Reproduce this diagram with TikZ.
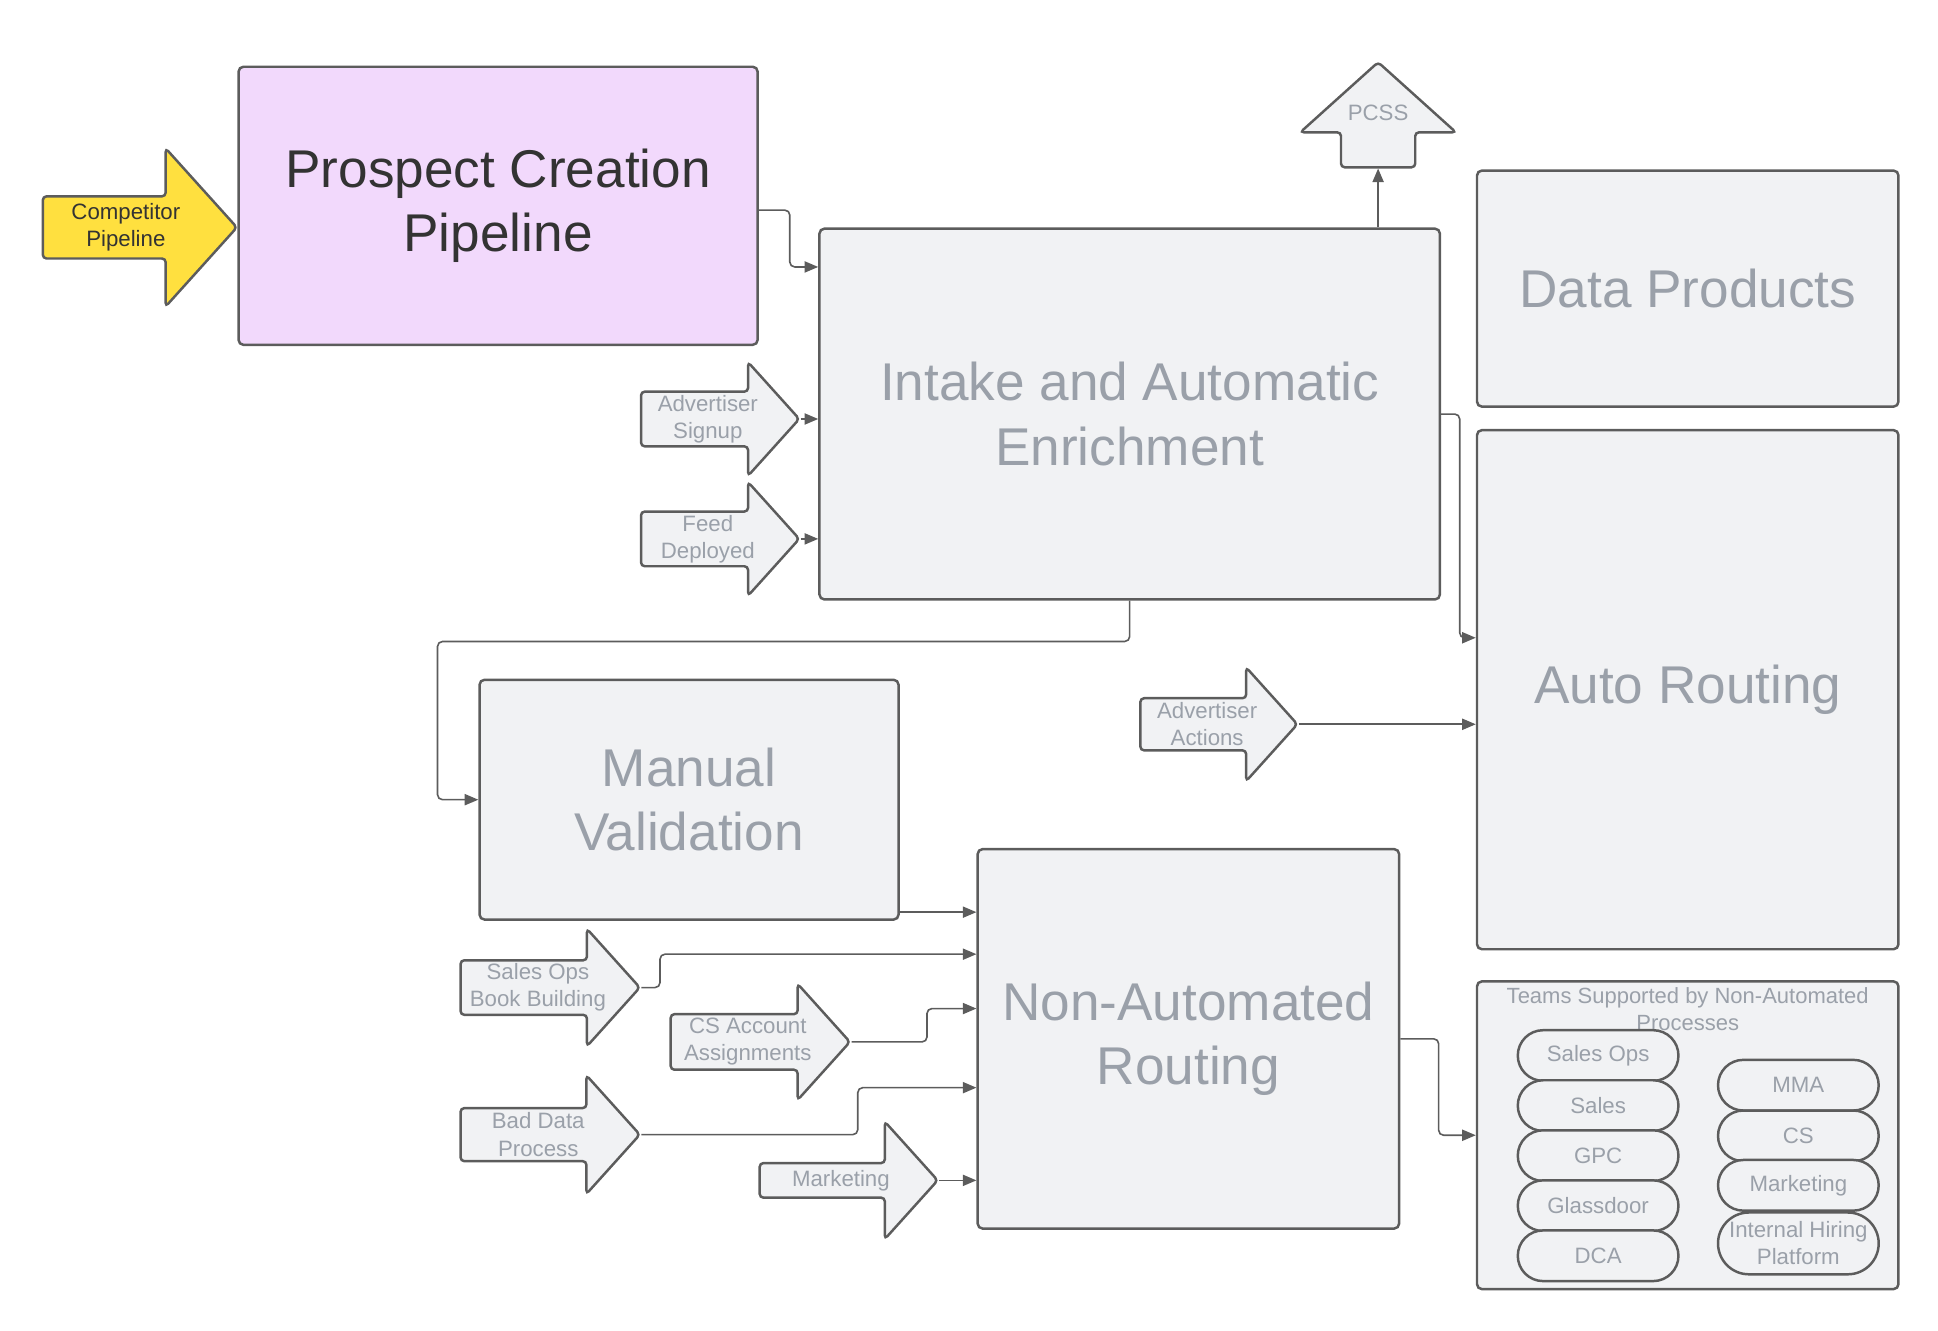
\documentclass[tikz,border=0pt]{standalone}
\usepackage{fontspec}
\setmainfont{Liberation Sans}
\usetikzlibrary{shapes.arrows,shapes.misc,arrows.meta,calc}
\definecolor{bordo}{HTML}{5C5C5C}
\definecolor{sfondo}{HTML}{F1F2F4}
\definecolor{testo}{HTML}{9AA0A9}
\definecolor{lilla}{HTML}{F2D9FC}
\definecolor{giallo}{HTML}{FFE03F}
\definecolor{scuro}{HTML}{333333}

\begin{document}
\begin{tikzpicture}[x=1pt, y=-1pt,
    blocco/.style={draw=bordo, line width=2pt, fill=sfondo, rounded corners=4pt, text=testo, align=center, font=\fontsize{43}{52}\selectfont},
    freccia/.style={single arrow, draw=bordo, line width=2pt, fill=sfondo, rounded corners=3pt, text=testo, align=center, font=\fontsize{18}{22}\selectfont, single arrow tip angle=96, anchor=tip, inner sep=0pt},
    pillola/.style={rounded rectangle, draw=bordo, line width=2pt, fill=sfondo, text=testo, align=center, minimum width=130pt, minimum height=41pt, inner sep=0pt, font=\fontsize{18}{22}\selectfont},
    collega/.style={draw=bordo, line width=1.3pt, rounded corners=4pt, -{Triangle[length=11pt,width=9pt]}}]
    \useasboundingbox (0,0) rectangle (1568,1076.1);

    % Blocchi principali
    \node[blocco, fill=lilla, text=scuro, minimum width=420pt, minimum height=225pt] (prospect) at (403,166.5) {Prospect Creation\\Pipeline};
    \node[blocco, minimum width=502pt, minimum height=300pt] (intake) at (914,335) {Intake and Automatic\\Enrichment};
    \node[blocco, minimum width=341pt, minimum height=191pt] (data) at (1365.5,233.5) {Data Products};
    \node[blocco, minimum width=341pt, minimum height=420pt] (auto) at (1365.5,558) {Auto Routing};
    \node[blocco, minimum width=339pt, minimum height=194pt] (manual) at (557.5,647) {Manual\\Validation};
    \node[blocco, minimum width=341pt, minimum height=307pt] (nonauto) at (961.5,840.5) {Non-Automated\\Routing};
    \node[blocco, minimum width=341pt, minimum height=249pt] (teams) at (1365.5,918.5) {};
    \node[text=testo, anchor=north, align=center, inner sep=0pt, font=\fontsize{17.8}{22}\selectfont] (titolo) at (1365.5,799) {Teams Supported by Non-Automated\\Processes};

    % Frecce in ingresso
    \node[freccia, fill=giallo, text=scuro, minimum height=157pt, minimum width=128pt, single arrow head extend=31.5pt] (comp) at (193,184) {Competitor\\Pipeline};
    \node[freccia, minimum height=128pt, minimum width=92pt, single arrow head extend=22pt] (asign) at (648,339) {Advertiser\\Signup};
    \node[freccia, minimum height=128pt, minimum width=92pt, single arrow head extend=22pt] (feed) at (648,436) {Feed\\Deployed};
    \node[freccia, minimum height=127pt, minimum width=92pt, single arrow head extend=22pt] (aact) at (1051,586) {Advertiser\\Actions};
    \node[freccia, minimum height=145pt, minimum width=95pt, single arrow head extend=23.5pt] (sobb) at (519,799) {Sales Ops\\Book Building};
    \node[freccia, minimum height=145pt, minimum width=94pt, single arrow head extend=22pt] (csacc) at (689,843) {CS Account\\Assignments};
    \node[freccia, minimum height=145pt, minimum width=96pt, single arrow head extend=23pt] (bdp) at (519,918) {Bad Data\\Process};
    \node[freccia, minimum height=144pt, minimum width=95pt, single arrow head extend=22.5pt] (mkt) at (760,955) {Marketing};
    \node[freccia, shape border rotate=90, minimum height=85pt, minimum width=126pt, single arrow head extend=28pt] (pcss) at (1115,49) {\raisebox{9pt}[0pt][0pt]{PCSS}};

    % Squadre supportate
    \node[pillola] (sops) at (1293,854) {Sales Ops};
    \node[pillola] (sales) at (1293,894.5) {Sales};
    \node[pillola] (gpc) at (1293,935) {GPC};
    \node[pillola] (glass) at (1293,975.5) {Glassdoor};
    \node[pillola] (dca) at (1293,1016) {DCA};
    \node[pillola] (mma) at (1455,878) {MMA};
    \node[pillola] (cs) at (1455,919) {CS};
    \node[pillola] (mark) at (1455,959) {Marketing};
    \node[pillola, minimum height=50pt] (ihp) at (1455,1006) {Internal Hiring\\Platform};

    % Collegamenti
    \coordinate (mv) at ($(manual.south east)+(0,-7)$);
    \draw[collega] ($(prospect.north east)+(0,117)$) -- ++(25,0) |- ($(intake.north west)+(0,32)$);
    \draw[collega] (asign.tip) -- (asign.tip -| intake.west);
    \draw[collega] (feed.tip) -- (feed.tip -| intake.west);
    \draw[collega] (pcss.tail |- intake.north) -- (pcss.tail);
    \draw[collega] (intake.east) -- ++(15,0) |- ($(auto.north west)+(0,169)$);
    \draw[collega] (intake.south) -- ++(0,33) -| ($(manual.west)+(-33,0)$) -- (manual.west);
    \draw[collega] (aact.tip) -- (aact.tip -| auto.west);
    \draw[collega] (mv) -- (mv -| nonauto.west);
    \draw[collega] (sobb.tip) -- ++(15,0) |- ($(nonauto.north west)+(0,86)$);
    \draw[collega] (csacc.tip) -- ++(61,0) |- ($(nonauto.north west)+(0,130)$);
    \draw[collega] (bdp.tip) -- ++(175,0) |- ($(nonauto.north west)+(0,194)$);
    \draw[collega] (mkt.tip) -- (mkt.tip -| nonauto.west);
    \draw[collega] (nonauto.east) -- ++(31,0) |- (teams.west);
\end{tikzpicture}
\end{document}
